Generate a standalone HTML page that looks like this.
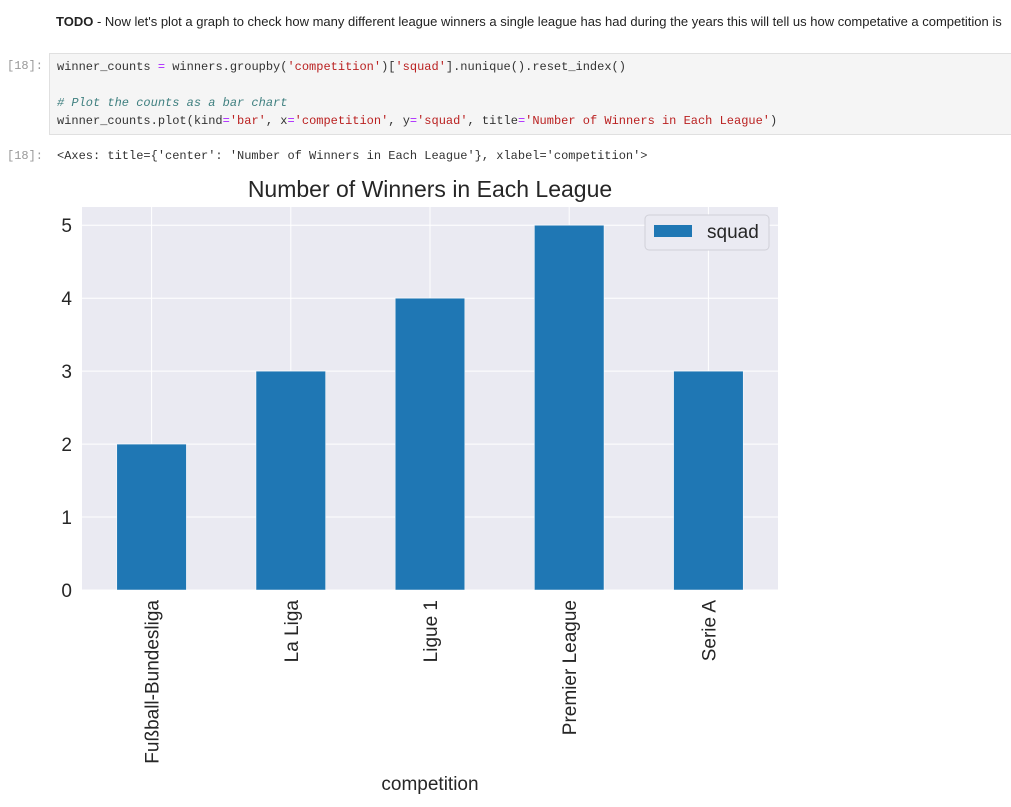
<!DOCTYPE html>
<html><head><meta charset="utf-8"><style>
body{margin:0;width:1011px;height:807px;background:#fff;overflow:hidden;position:relative;font-family:"Liberation Sans",sans-serif}
.todo{position:absolute;left:56px;top:14px;font-size:13px;color:#222;white-space:nowrap}
.cell{position:absolute;left:49px;top:53px;width:970px;height:82px;background:#f5f5f5;border:1px solid #e0e0e0;box-sizing:border-box}
.code{font-family:"Liberation Mono",monospace;font-size:12px;color:#333;white-space:pre;position:absolute;left:57px;line-height:18px}
.prompt{position:absolute;left:7px;font-family:"Liberation Mono",monospace;font-size:12px;color:#999}
.s{color:#ba2121}.c{color:#408080;font-style:italic}.o{color:#aa22ff}.f{color:#0055aa}
</style></head><body>
<div class="todo"><b>TODO</b> - Now let's plot a graph to check how many different league winners a single league has had during the years this will tell us how competative a competition is</div>
<div class="cell"></div>
<div class="prompt" style="top:59px">[18]:</div>
<div class="code" style="top:58px">winner_counts <span class="o">=</span> winners.groupby(<span class="s">'competition'</span>)[<span class="s">'squad'</span>].nunique().reset_index()</div>
<div class="code c" style="top:94px"># Plot the counts as a bar chart</div>
<div class="code" style="top:112px">winner_counts.plot(kind<span class="o">=</span><span class="s">'bar'</span>, x<span class="o">=</span><span class="s">'competition'</span>, y<span class="o">=</span><span class="s">'squad'</span>, title<span class="o">=</span><span class="s">'Number of Winners in Each League'</span>)</div>
<div class="prompt" style="top:149px">[18]:</div>
<div class="code" style="top:147px">&lt;Axes: title={'center': 'Number of Winners in Each League'}, xlabel='competition'&gt;</div>
<svg id="chart" width="1011" height="807" style="position:absolute;left:0;top:0"></svg>
<script>
const categories=["Fußball-Bundesliga","La Liga","Ligue 1","Premier League","Serie A"];
const values=[2,3,4,5,3];
const yTicks=[0,1,2,3,4,5];
const NS="http://www.w3.org/2000/svg";
const svg=document.getElementById('chart');
const L=82,R=778,T=207,B=590,yMax=5.25;
const xs=i=>L+(i+0.5)*(R-L)/categories.length;
const ys=v=>B-v/yMax*(B-T);
function mk(tag,attrs,parent){const e=document.createElementNS(NS,tag);for(const k in attrs)e.setAttribute(k,attrs[k]);(parent||svg).appendChild(e);return e;}
const bg=mk('rect',{x:L,y:T,width:R-L,height:B-T,fill:'#eaeaf2'});


yTicks.forEach(t=>{
  const g=mk('line',{x1:L,x2:R,y1:ys(t),y2:ys(t),stroke:'#fff','stroke-width':1});
  
  
  const tx=mk('text',{x:L-10,y:ys(t)+7,'text-anchor':'end','font-size':19,fill:'#262626'});
  tx.textContent=t;
  
  
});
const bw=0.5*(R-L)/categories.length;
categories.forEach((c,i)=>{
  const g=mk('line',{x1:xs(i),x2:xs(i),y1:T,y2:B,stroke:'#fff','stroke-width':1});
  
  
});
categories.forEach((c,i)=>{
  const r=mk('rect',{x:xs(i)-bw/2,y:ys(values[i]),width:bw,height:B-ys(values[i]),fill:'#1f77b4',stroke:'#fff','stroke-width':0.5});
  
  
  const t=mk('text',{x:0,y:0,'text-anchor':'end','font-size':19,fill:'#262626',transform:`translate(${xs(i)+7},${B+10}) rotate(-90)`});
  t.textContent=c;
  
  
});
const title=mk('text',{x:(L+R)/2,y:197,'text-anchor':'middle','font-size':23,fill:'#262626'});
title.textContent='Number of Winners in Each League';


const xl=mk('text',{x:(L+R)/2,y:790,'text-anchor':'middle','font-size':19,fill:'#262626'});
xl.textContent='competition';


const lg=mk('g',{});


mk('rect',{x:645,y:215,width:124,height:35,rx:4,fill:'#eaeaf2',stroke:'#d0d0d8','stroke-width':1},lg);
const sw=mk('rect',{x:654,y:225,width:38,height:12,fill:'#1f77b4'},lg);


const lt=mk('text',{x:707,y:238,'font-size':19,fill:'#262626'},lg);
lt.textContent='squad';


</script>
</body></html>
